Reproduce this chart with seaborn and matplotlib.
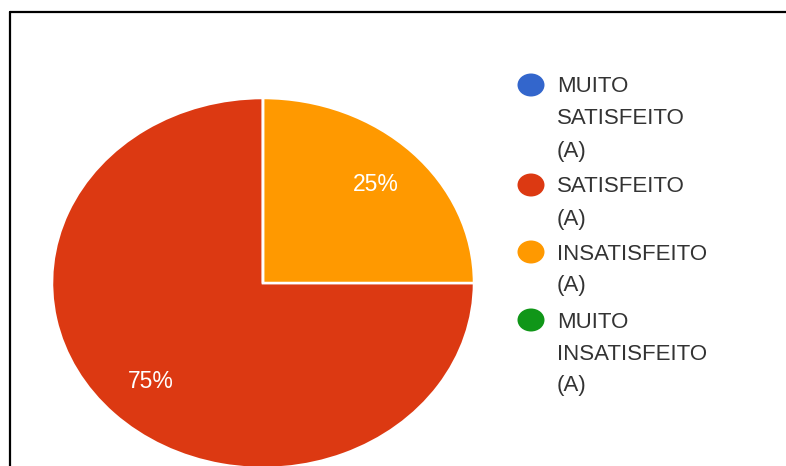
import matplotlib
matplotlib.use("Agg")
import matplotlib.pyplot as plt
from matplotlib.lines import Line2D
from matplotlib.patches import Ellipse
import seaborn as sns

categories = ["MUITO SATISFEITO (A)", "SATISFEITO (A)", "INSATISFEITO (A)", "MUITO INSATISFEITO (A)"]
legend_lines = [["MUITO", "SATISFEITO", "(A)"], ["SATISFEITO", "(A)"],
                ["INSATISFEITO", "(A)"], ["MUITO", "INSATISFEITO", "(A)"]]
values = [0, 75, 25, 0]
colors = ["#3366CC", "#DC3912", "#FF9900", "#109618"]

sns.set_theme(style="white")
plt.rcParams["font.family"] = ["Liberation Sans", "DejaVu Sans"]

W, H = 786, 466
fig = plt.figure(figsize=(W / 100, H / 100), dpi=100)
fig.patch.set_facecolor("white")

# pie axes: ellipse centre (263, 283) px, rx 211, ry 185
cx, cy, rx, ry = 263, 283, 211, 185
ax = fig.add_axes([(cx - rx) / W, (H - cy - ry) / H, 2 * rx / W, 2 * ry / H])
wedges, texts, autotexts = ax.pie(
    values, colors=colors, startangle=90, counterclock=True, radius=1,
    autopct=lambda p: f"{p:.0f}%" if p > 0 else "", pctdistance=0.755,
    wedgeprops=dict(edgecolor="white", linewidth=1.8),
    textprops=dict(color="white", fontsize=16.5))
ax.set_aspect("auto")
ax.set_xlim(-1, 1)
ax.set_ylim(-1, 1)
ax.axis("off")
for w in wedges:
    w.set_clip_on(False)

# legend drawn manually
marker_y = [85, 185, 252, 320]
line_step = 32
for lines, my, col in zip(legend_lines, marker_y, colors):
    fig.add_artist(Ellipse((531 / W, 1 - my / H), 27 / W, 23 / H,
                           transform=fig.transFigure, facecolor=col, edgecolor="none"))
    for i, t in enumerate(lines):
        yb = my + 7.5 + i * line_step
        fig.text(557 / W, 1 - yb / H, t, fontsize=16, color="#333333",
                 ha="left", va="baseline")

# frame lines (top and left)
fig.add_artist(Line2D([9.5 / W, 1], [1 - 12 / H, 1 - 12 / H], transform=fig.transFigure,
                      color="black", linewidth=1.6))
fig.add_artist(Line2D([9.5 / W, 9.5 / W], [0, 1 - 12 / H], transform=fig.transFigure,
                      color="black", linewidth=1.6))

fig.savefig("out.png", dpi=100, facecolor="white")
